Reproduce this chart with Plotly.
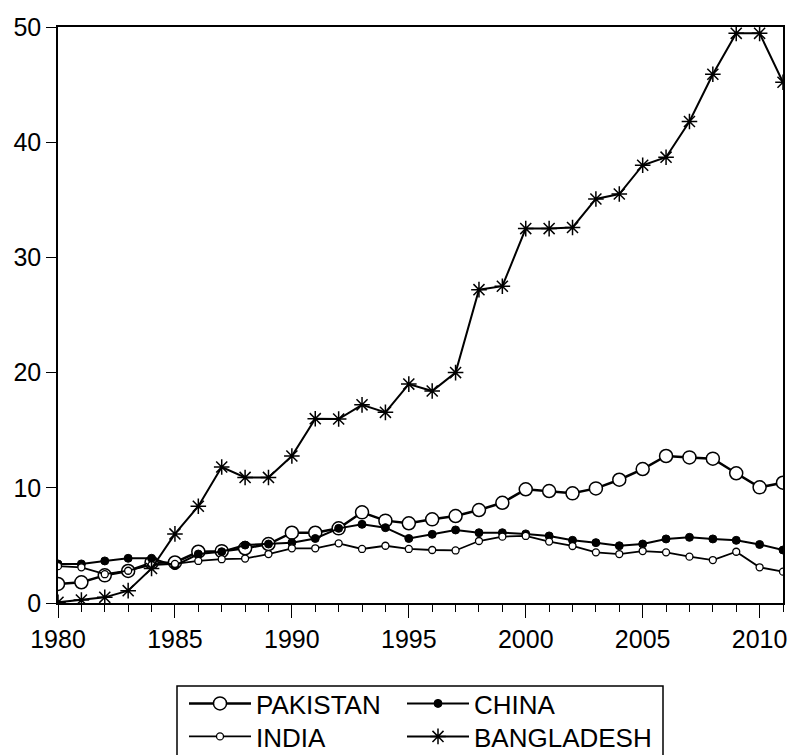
import plotly.graph_objects as go

years = list(range(1980, 2012))

pakistan = [1.65, 1.8, 2.4, 2.78, 3.5, 3.52, 4.45, 4.5, 4.75, 5.12, 6.1, 6.1,
            6.48, 7.87, 7.15, 6.92, 7.26, 7.55, 8.07, 8.7, 9.87, 9.72, 9.52, 9.95,
            10.7, 11.63, 12.76, 12.64, 12.53, 11.26, 10.04, 10.44]
china = [3.39, 3.39, 3.65, 3.88, 3.88, 3.24, 4.25, 4.45, 5.03, 5.12, 5.24, 5.6,
         6.48, 6.83, 6.54, 5.6, 5.96, 6.34, 6.1, 6.1, 6.0, 5.82, 5.44, 5.24,
         4.97, 5.12, 5.56, 5.7, 5.56, 5.44, 5.08, 4.6]
india = [3.2, 3.1, 2.5, 2.8, 3.3, 3.4, 3.65, 3.8, 3.86, 4.25, 4.75, 4.75,
         5.18, 4.69, 4.97, 4.69, 4.6, 4.56, 5.38, 5.76, 5.82, 5.33, 4.95, 4.4,
         4.25, 4.51, 4.4, 4.02, 3.73, 4.45, 3.1, 2.72]
bangladesh = [0.06, 0.26, 0.49, 1.07, 3.0, 6.0, 8.4, 11.8, 10.9, 10.9, 12.76, 16.0,
              15.97, 17.2, 16.55, 19.0, 18.4, 20.0, 27.2, 27.5, 32.5, 32.5, 32.6, 35.07,
              35.5, 38.0, 38.7, 41.8, 45.9, 49.45, 49.45, 45.2]

x_ticks = [1980, 1985, 1990, 1995, 2000, 2005, 2010]
y_ticks = [0, 10, 20, 30, 40, 50]

FONT = "Liberation Sans, Arial, sans-serif"

L, R, T, B = 58, 7, 27, 152
W, H = 790, 755
pw, ph = W - L - R, H - T - B


def px_to_paper_x(px):
    return (px - L) / pw


def px_to_paper_y(py):
    return (H - B - py) / ph


fig = go.Figure()
fig.add_trace(go.Scatter(
    x=years, y=pakistan, name="PAKISTAN", mode="lines+markers",
    line=dict(color="black", width=2.5),
    marker=dict(symbol="circle", size=13, color="white", line=dict(color="black", width=1.5)),
    legend="legend"))
fig.add_trace(go.Scatter(
    x=years, y=china, name="CHINA", mode="lines+markers",
    line=dict(color="black", width=2),
    marker=dict(symbol="circle", size=8, color="black", line=dict(color="black", width=1)),
    legend="legend2"))
fig.add_trace(go.Scatter(
    x=years, y=india, name="INDIA", mode="lines+markers",
    line=dict(color="black", width=1.8),
    marker=dict(symbol="circle", size=7, color="white", line=dict(color="black", width=1.3)),
    legend="legend3"))
fig.add_trace(go.Scatter(
    x=years, y=bangladesh, name="BANGLADESH", mode="lines+markers",
    line=dict(color="black", width=2),
    marker=dict(symbol="asterisk-open", size=13, color="black", line=dict(color="black", width=1.5)),
    legend="legend4"))


def leg(px_x, px_y):
    return dict(
        orientation="v", font=dict(family=FONT, size=26, color="black"),
        bgcolor="rgba(0,0,0,0)", borderwidth=0, itemwidth=62,
        xref="container", yref="container",
        x=px_x / W, y=1 - px_y / H,
        xanchor="left", yanchor="top", tracegroupgap=0, itemclick=False,
    )


fig.update_layout(
    width=W, height=H,
    margin=dict(l=L, r=R, t=T, b=B, autoexpand=False),
    paper_bgcolor="white", plot_bgcolor="white",
    font=dict(family=FONT, size=25, color="black"),
    showlegend=True,
    legend=leg(184, 680),
    legend2=leg(402, 680),
    legend3=leg(184, 713),
    legend4=leg(402, 713),
    shapes=[dict(type="rect", xref="paper", yref="paper",
                 x0=px_to_paper_x(177), x1=px_to_paper_x(663),
                 y0=px_to_paper_y(686), y1=px_to_paper_y(790),
                 line=dict(color="black", width=1.5), fillcolor="rgba(0,0,0,0)")],
    xaxis=dict(
        range=[1980, 2011], tickvals=x_ticks, ticktext=[str(v) for v in x_ticks],
        ticks="outside", ticklen=13, tickwidth=1.2, tickcolor="black",
        showline=True, linecolor="black", linewidth=1.5, mirror=True,
        showgrid=False, zeroline=False, automargin=False,
        tickfont=dict(family=FONT, size=25, color="black"),
        minor=dict(dtick=1, tick0=1980, ticks="outside", ticklen=7, tickwidth=1.2,
                   tickcolor="black", showgrid=False),
    ),
    yaxis=dict(
        range=[0, 50], tickvals=y_ticks, ticktext=[str(v) for v in y_ticks],
        ticks="outside", ticklen=10, tickwidth=1.2, tickcolor="black",
        showline=True, linecolor="black", linewidth=1.5, mirror=True,
        showgrid=False, zeroline=False, automargin=False,
        tickfont=dict(family=FONT, size=25, color="black"),
    ),
)

fig.write_html(
    "out.html",
    config={"displayModeBar": False},
    post_script="document.body.style.margin='0';document.body.style.overflow='hidden';",
)
